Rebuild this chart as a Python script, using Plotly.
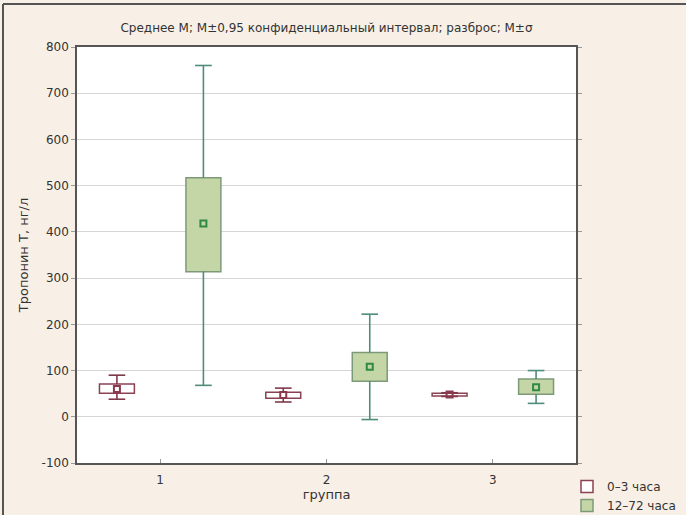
import plotly.graph_objects as go

# Groups on the x axis
groups = [1, 2, 3]
tick_labels = ["1", "2", "3"]

# 0–3 hours: mean, box (M±σ) and whisker range
early_mean = [60, 47, 48]
early_box_lo = [51, 40, 45]
early_box_hi = [71, 53, 51]
early_wh_lo = [38, 32, 44]
early_wh_hi = [90, 62, 52]

# 12–72 hours
late_mean = [418, 108, 64]
late_box_lo = [314, 77, 49]
late_box_hi = [517, 139, 82]
late_wh_lo = [68, -6, 29]
late_wh_hi = [760, 222, 100]

y_ticks = [-100, 0, 100, 200, 300, 400, 500, 600, 700, 800]
y_tick_labels = [str(v) for v in y_ticks]

FONT = "DejaVu Sans, Verdana, sans-serif"
OFFSET = 0.26
BOX_W = 0.21
CAP_W = 0.10


def whisker_xy(xs, box_lo, box_hi, wh_lo, wh_hi):
    """Vertical whisker stems outside the box plus horizontal caps."""
    px, py = [], []
    for x, bl, bh, wl, wh in zip(xs, box_lo, box_hi, wh_lo, wh_hi):
        px += [x, x, None, x, x, None]
        py += [wl, bl, None, bh, wh, None]
        px += [x - CAP_W / 2, x + CAP_W / 2, None, x - CAP_W / 2, x + CAP_W / 2, None]
        py += [wl, wl, None, wh, wh, None]
    return px, py


series = [
    dict(name="0–3 часа", shift=-OFFSET, mean=early_mean, lo=early_box_lo, hi=early_box_hi,
         wl=early_wh_lo, wh=early_wh_hi, fill="#ffffff", edge="#8a4252",
         whisk="#7e3a4a", mark="#8a3a4c"),
    dict(name="12–72 часа", shift=OFFSET, mean=late_mean, lo=late_box_lo, hi=late_box_hi,
         wl=late_wh_lo, wh=late_wh_hi, fill="#c4d5a6", edge="#7c9a78",
         whisk="#4e8c7c", mark="#2f8a45"),
]

fig = go.Figure()

for s in series:
    xs = [g + s["shift"] for g in groups]
    fig.add_trace(go.Bar(
        x=xs, base=s["lo"], y=[h - l for h, l in zip(s["hi"], s["lo"])],
        width=BOX_W, name=s["name"],
        marker=dict(color=s["fill"], line=dict(color=s["edge"], width=1.5)),
        hoverinfo="skip",
    ))
    wx, wy = whisker_xy(xs, s["lo"], s["hi"], s["wl"], s["wh"])
    fig.add_trace(go.Scatter(
        x=wx, y=wy, mode="lines", showlegend=False,
        line=dict(color=s["whisk"], width=1.6), hoverinfo="skip",
    ))
    fig.add_trace(go.Scatter(
        x=xs, y=s["mean"], mode="markers", showlegend=False,
        marker=dict(symbol="square-open", size=6, color=s["mark"], line=dict(width=2)),
    ))

fig.update_layout(
    width=686, height=515,
    margin=dict(l=77, r=110, t=47, b=52, autoexpand=False),
    paper_bgcolor="#f8f0e6",
    plot_bgcolor="#ffffff",
    barmode="overlay",
    font=dict(family=FONT, size=12, color="#333333"),
    title=dict(
        text="Среднее M; M±0,95 конфиденциальный интервал; разброс; M±σ",
        x=0.5, xref="paper", xanchor="center",
        y=1 - 28 / 515, yref="container", yanchor="middle",
        font=dict(family=FONT, size=12, color="#333333"),
    ),
    legend=dict(
        xref="container", yref="container",
        x=567 / 686, y=1 - 472 / 515, xanchor="left", yanchor="top",
        bgcolor="rgba(0,0,0,0)", font=dict(size=12, color="#333333"),
        tracegroupgap=0, itemwidth=30,
    ),
    showlegend=True,
)

fig.update_xaxes(
    range=[0.5, 3.5], tickvals=groups, ticktext=tick_labels,
    showgrid=False, zeroline=False,
    showline=True, linecolor="#555555", linewidth=1.5, mirror=True,
    ticks="inside", ticklen=4, tickcolor="#999999", ticklabelstandoff=5,
    title=dict(text="группа", standoff=3, font=dict(size=13)),
)
fig.update_yaxes(
    range=[-100, 800], tickvals=y_ticks, ticktext=y_tick_labels,
    showgrid=True, gridcolor="#d6d6d6", gridwidth=1, zeroline=False,
    showline=True, linecolor="#555555", linewidth=1.5, mirror="ticks",
    ticks="outside", ticklen=4, tickcolor="#999999",
    title=dict(text="Тропонин Т, нг/л", standoff=10, font=dict(size=13)),
)

# Outer frame lines along the top and left of the figure
fig.add_shape(type="line", xref="paper", yref="paper",
              x0=(3 - 77) / 499, x1=(700 - 77) / 499,
              y0=(463 - 4) / 416, y1=(463 - 4) / 416,
              line=dict(color="#555555", width=2))
fig.add_shape(type="line", xref="paper", yref="paper",
              x0=(3 - 77) / 499, x1=(3 - 77) / 499,
              y0=(463 - 4) / 416, y1=(463 - 530) / 416,
              line=dict(color="#555555", width=2))

fig.write_html("out.html")
